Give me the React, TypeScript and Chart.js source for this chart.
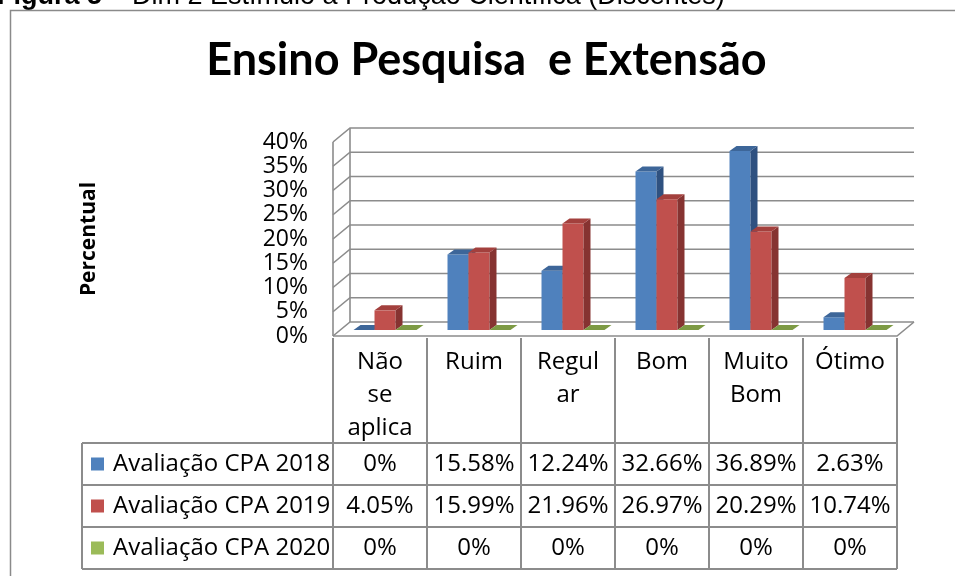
import { useEffect, useRef } from "react";
import { Chart, registerables } from "chart.js";

Chart.register(...registerables);

// ---------- data ----------
const CAPTION_BOLD = "Figura 5";
const CAPTION_REST = " – Dim 2 Estímulo à Produção Científica (Discentes)";
const TITLE = "Ensino Pesquisa  e Extensão";
const Y_TITLE = "Percentual";
const CATEGORIES = ["Não se aplica", "Ruim", "Regular", "Bom", "Muito Bom", "Ótimo"];
const CATEGORY_LINES = [["Não", "se", "aplica"], ["Ruim"], ["Regul", "ar"], ["Bom"], ["Muito", "Bom"], ["Ótimo"]];
const SERIES_NAMES = ["Avaliação CPA 2018", "Avaliação CPA 2019", "Avaliação CPA 2020"];
const CPA_2018 = [0, 15.58, 12.24, 32.66, 36.89, 2.63];
const CPA_2019 = [4.05, 15.99, 21.96, 26.97, 20.29, 10.74];
const CPA_2020 = [0, 0, 0, 0, 0, 0];
const Y_MIN = 0;
const Y_MAX = 40;
const Y_STEP = 5;

// ---------- style ----------
const TITLE_FONT = "Lato";
const FONT = "Open Sans";
const FRONT = ["#4F81BD", "#C0504D", "#9BBB59"];
const TOP = ["#3D6699", "#A3403D", "#7D9A44"];
const SIDE = ["#2F5180", "#863331", "#62792F"];
const GRID = "#8C8C8C";
const WALL = { dx: 17, dy: -14 };
const SHIFT = { dx: 5, dy: -6 };
const BAR3D = { dx: 7, dy: -5 };

const fmt = (v: number) => (v === 0 ? "0%" : v.toFixed(2) + "%");

const excel3d = {
  id: "excel3d",
  beforeDraw(chart: any) {
    const ctx = chart.ctx;
    ctx.save();
    ctx.fillStyle = "#fff";
    ctx.fillRect(0, 0, chart.width, chart.height);
    ctx.fillStyle = "#000";
    ctx.textBaseline = "alphabetic";
    ctx.textAlign = "left";
    ctx.font = 'bold 27px "Liberation Sans"';
    ctx.fillText(CAPTION_BOLD, -3, 4);
    const w = ctx.measureText(CAPTION_BOLD).width;
    ctx.font = '27px "Liberation Sans"';
    ctx.fillText(CAPTION_REST, -3 + w, 4);
    ctx.strokeStyle = "#8a8a8a";
    ctx.lineWidth = 1.5;
    ctx.beginPath();
    ctx.moveTo(10.5, chart.height);
    ctx.lineTo(10.5, 10.5);
    ctx.lineTo(chart.width, 10.5);
    ctx.stroke();
    ctx.restore();
  },
  beforeDatasetsDraw(chart: any) {
    const { ctx, chartArea: a } = chart;
    const y = chart.scales.y;
    const y0 = y.getPixelForValue(Y_MIN);
    const yT = y.getPixelForValue(Y_MAX);
    ctx.save();
    ctx.strokeStyle = GRID;
    ctx.lineWidth = 1.6;
    y.ticks.forEach((t: any) => {
      const py = y.getPixelForValue(t.value);
      ctx.beginPath();
      ctx.moveTo(a.left, py);
      ctx.lineTo(a.left + WALL.dx, py + WALL.dy);
      ctx.lineTo(a.right + WALL.dx, py + WALL.dy);
      ctx.stroke();
    });
    ctx.beginPath();
    ctx.moveTo(a.left, yT);
    ctx.lineTo(a.left, y0);
    ctx.moveTo(a.left + WALL.dx, yT + WALL.dy);
    ctx.lineTo(a.left + WALL.dx, y0 + WALL.dy);
    ctx.moveTo(a.left, y0);
    ctx.lineTo(a.right, y0);
    ctx.lineTo(a.right + WALL.dx, y0 + WALL.dy);
    ctx.stroke();

    ctx.translate(SHIFT.dx, SHIFT.dy);
    const metas = chart.data.datasets.map((_: any, i: number) => chart.getDatasetMeta(i));
    const n = chart.data.labels.length;
    for (let j = 0; j < n; j++) {
      for (let i = 0; i < metas.length; i++) {
        const el = metas[i].data[j];
        if (!el) continue;
        const { x: bx, y: by, base, width } = el.getProps(["x", "y", "base", "width"], true);
        const l = bx - width / 2;
        const r = bx + width / 2;
        el.draw(ctx, a);
        ctx.fillStyle = SIDE[i];
        ctx.beginPath();
        ctx.moveTo(r, by);
        ctx.lineTo(r + BAR3D.dx, by + BAR3D.dy);
        ctx.lineTo(r + BAR3D.dx, base + BAR3D.dy);
        ctx.lineTo(r, base);
        ctx.closePath();
        ctx.fill();
        ctx.fillStyle = TOP[i];
        ctx.beginPath();
        ctx.moveTo(l, by);
        ctx.lineTo(r, by);
        ctx.lineTo(r + BAR3D.dx, by + BAR3D.dy);
        ctx.lineTo(l + BAR3D.dx, by + BAR3D.dy);
        ctx.closePath();
        ctx.fill();
      }
    }
    ctx.restore();
    return false;
  },
  afterDraw(chart: any) {
    const { ctx } = chart;
    const x = chart.scales.x;
    const y = chart.scales.y;
    const n = CATEGORIES.length;
    const y0 = y.getPixelForValue(Y_MIN);
    const colW = x.getPixelForValue(1) - x.getPixelForValue(0);
    const bounds = CATEGORIES.map((_, i) => x.getPixelForValue(i) - colW / 2);
    bounds.push(x.getPixelForValue(n - 1) + colW / 2);
    const headTop = y0 + 2;
    const headBottom = y0 + 107;
    const rowH = 42;
    const legendLeft = 82;
    const tableBottom = headBottom + rowH * SERIES_NAMES.length;
    const series = [CPA_2018, CPA_2019, CPA_2020];

    ctx.save();
    ctx.strokeStyle = GRID;
    ctx.lineWidth = 2;
    ctx.beginPath();
    for (let k = 0; k <= SERIES_NAMES.length; k++) {
      const py = Math.round(headBottom + k * rowH);
      ctx.moveTo(legendLeft, py);
      ctx.lineTo(bounds[n], py);
    }
    bounds.forEach((bx) => {
      const px = Math.round(bx);
      ctx.moveTo(px, headTop);
      ctx.lineTo(px, tableBottom);
    });
    ctx.moveTo(legendLeft, headBottom);
    ctx.lineTo(legendLeft, tableBottom);
    ctx.stroke();

    ctx.fillStyle = "#000";
    ctx.font = `24px "${FONT}"`;
    ctx.textAlign = "center";
    ctx.textBaseline = "middle";
    CATEGORY_LINES.forEach((lines, i) => {
      const cx = x.getPixelForValue(i);
      lines.forEach((ln, k) => ctx.fillText(ln, cx, y0 + 26 + k * 33));
    });
    SERIES_NAMES.forEach((name, s) => {
      const cy = headBottom + s * rowH + rowH / 2;
      ctx.fillStyle = FRONT[s];
      ctx.fillRect(legendLeft + 9, cy - 6.5, 13, 13);
      ctx.fillStyle = "#000";
      ctx.textAlign = "left";
      ctx.fillText(name, legendLeft + 31, cy);
      ctx.textAlign = "center";
      series[s].forEach((v, i) => ctx.fillText(fmt(v), x.getPixelForValue(i), cy));
    });
    ctx.restore();
  },
};

export default function App() {
  const ref = useRef<HTMLCanvasElement | null>(null);
  useEffect(() => {
    if (!ref.current) return;
    Chart.defaults.font.family = FONT;
    Chart.defaults.color = "#000";
    const chart = new Chart(ref.current, {
      type: "bar",
      data: {
        labels: CATEGORIES,
        datasets: [CPA_2018, CPA_2019, CPA_2020].map((d, i) => ({
          label: SERIES_NAMES[i],
          data: d,
          backgroundColor: FRONT[i],
          borderWidth: 0,
          categoryPercentage: 0.67,
          barPercentage: 1,
        })),
      },
      options: {
        animation: false,
        responsive: false,
        events: [],
        layout: { padding: { left: 76, right: 58, top: 0, bottom: 240 } },
        plugins: {
          legend: { display: false },
          tooltip: { enabled: false },
          title: {
            display: true,
            text: TITLE,
            color: "#000",
            font: { family: TITLE_FONT, size: 45, weight: "bold" },
            padding: { top: 33, bottom: 55 },
          },
        },
        scales: {
          x: { display: false, offset: true },
          y: {
            min: Y_MIN,
            max: Y_MAX,
            ticks: {
              stepSize: Y_STEP,
              autoSkip: false,
              padding: 25,
              color: "#000",
              font: { family: FONT, size: 23 },
              callback: (v: any) => v + "%",
            },
            grid: { display: false, drawTicks: false },
            border: { display: false },
            title: {
              display: true,
              text: Y_TITLE,
              color: "#000",
              padding: 0,
              font: { family: FONT, size: 21, weight: "bold" },
            },
            afterFit: (s: any) => {
              s.width = 257;
            },
          },
        },
      },
      plugins: [excel3d],
    } as any);
    return () => chart.destroy();
  }, []);
  return (
    <div style={{ position: "absolute", left: 0, top: 0, width: 955, height: 576, overflow: "hidden" }}>
      <canvas ref={ref} width={955} height={576} style={{ display: "block" }} />
    </div>
  );
}
